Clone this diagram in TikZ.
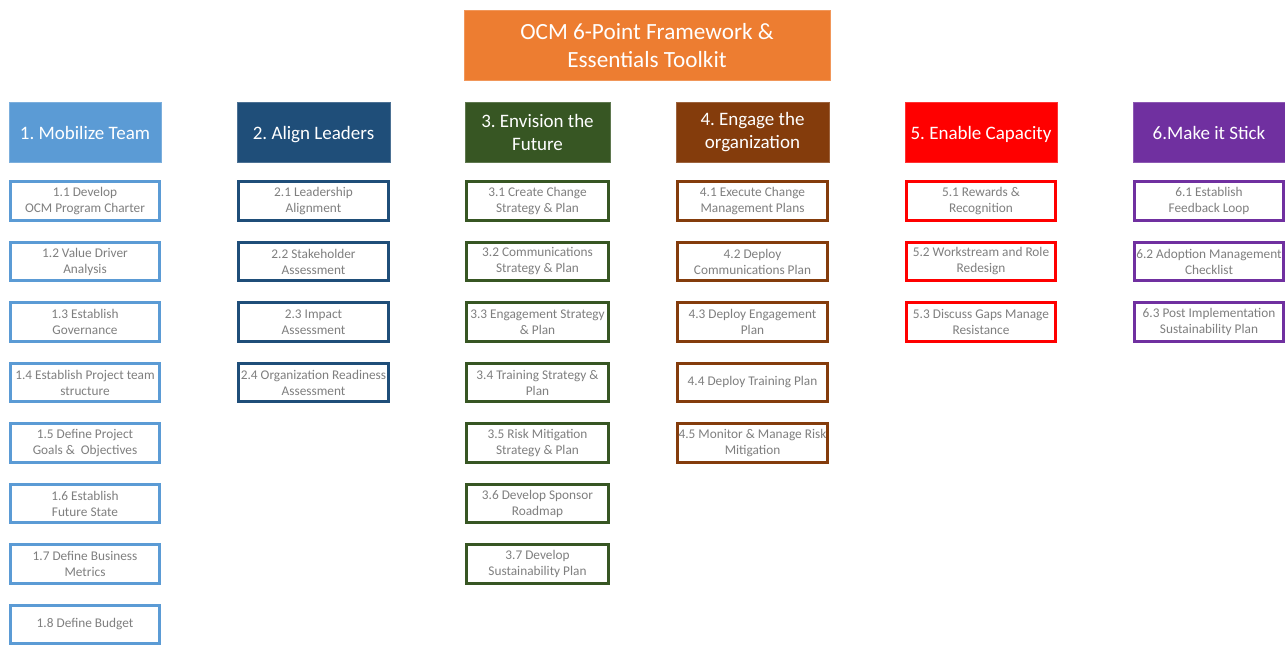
\documentclass[tikz,border=0pt]{standalone}
\usepackage{fontspec}
\setmainfont{Carlito}
\frenchspacing
\definecolor{corange}{HTML}{ED7D31}
\definecolor{cone}{HTML}{5B9BD5}
\definecolor{ctwo}{HTML}{1F4E79}
\definecolor{cthree}{HTML}{375623}
\definecolor{cfour}{HTML}{843C0C}
\definecolor{cfive}{HTML}{FF0000}
\definecolor{csix}{HTML}{7030A0}
\definecolor{subtxt}{HTML}{7F7F7F}
\begin{document}
\begin{tikzpicture}[x=1pt,y=-1pt,
  titlebox/.style={rectangle, fill=corange, draw=corange!80!white, line width=0.8pt, text=white, align=center,
    minimum width=366pt, minimum height=70pt, font=\fontsize{23.2}{28}\selectfont, inner sep=0pt},
  headbox/.style={rectangle, fill=#1, draw=#1!80!white, line width=0.8pt, text=white, align=center,
    minimum height=60pt, font=\fontsize{19}{23}\selectfont, inner sep=0pt},
  subbox/.style={rectangle, draw=#1, line width=2.6pt, fill=white, text=subtxt, align=center,
    minimum height=38.5pt, font=\fontsize{13.3}{16}\selectfont, inner sep=0pt},
  hline/.style={text height=14.4pt, text depth=0pt},
  sline/.style={text height=9.5pt, text depth=3pt},
  wA/.style={minimum width=152pt}, wB/.style={minimum width=153pt}, wC/.style={minimum width=145pt},
  sA/.style={minimum width=149.5pt}, sB/.style={minimum width=150.5pt}, sC/.style={minimum width=142.5pt}
]
\useasboundingbox (0,0) rectangle (1285,648);
\fill[white] (0,0) rectangle (1285,648);

\node[titlebox] (title) at (647,45.5) {OCM 6-Point Framework \&\\Essentials Toolkit};

% headers
\node[headbox=cone, wA, hline] (h1) at (85,132) {1. Mobilize Team};
\node[headbox=ctwo, wB, hline] (h2) at (313.5,132) {2. Align Leaders};
\node[headbox=cthree, wC] (h3) at (537.5,132.5) {3. Envision the\\Future};
\node[headbox=cfour, wB] (h4) at (752.5,132.5) {4. Engage the\\organization};
\node[headbox=cfive, wA, hline] (h5) at (981,132) {5. Enable Capacity};
\node[headbox=csix, wA, hline] (h6) at (1209,132) {6.Make it Stick};

% column 1
\node[subbox=cone, sA] (s11) at (85,201) {1.1 Develop\\OCM Program Charter};
\node[subbox=cone, sA] (s12) at (85,261.5) {1.2 Value Driver\\Analysis};
\node[subbox=cone, sA] (s13) at (85,322) {1.3 Establish\\Governance};
\node[subbox=cone, sA] (s14) at (85,382.5) {1.4 Establish Project team\\structure};
\node[subbox=cone, sA] (s15) at (85,443) {1.5 Define Project\\Goals \&\ \ Objectives};
\node[subbox=cone, sA] (s16) at (85,503.5) {1.6 Establish\\Future State};
\node[subbox=cone, sA] (s17) at (85,564) {1.7 Define Business\\Metrics};
\node[subbox=cone, sA, sline] (s18) at (85,624.5) {1.8 Define Budget};

% column 2
\node[subbox=ctwo, sB] (s21) at (313.5,201) {2.1 Leadership\\Alignment};
\node[subbox=ctwo, sB] (s22) at (313.5,261.5) {2.2 Stakeholder\\Assessment};
\node[subbox=ctwo, sB] (s23) at (313.5,322) {2.3 Impact\\Assessment};
\node[subbox=ctwo, sB] (s24) at (313.5,382.5) {2.4 Organization Readiness\\Assessment};

% column 3
\node[subbox=cthree, sC] (s31) at (537.5,201) {3.1 Create Change\\Strategy \& Plan};
\node[subbox=cthree, sC] (s32) at (537.5,261.5) {3.2 Communications\\Strategy \& Plan};
\node[subbox=cthree, sC] (s33) at (537.5,322) {3.3 Engagement Strategy\\\& Plan};
\node[subbox=cthree, sC] (s34) at (537.5,382.5) {3.4 Training Strategy \&\\Plan};
\node[subbox=cthree, sC] (s35) at (537.5,443) {3.5 Risk Mitigation\\Strategy \& Plan};
\node[subbox=cthree, sC] (s36) at (537.5,503.5) {3.6 Develop Sponsor\\Roadmap};
\node[subbox=cthree, sC] (s37) at (537.5,564) {3.7 Develop\\Sustainability Plan};

% column 4
\node[subbox=cfour, sB] (s41) at (752.5,201) {4.1 Execute Change\\Management Plans};
\node[subbox=cfour, sB] (s42) at (752.5,261.5) {4.2 Deploy\\Communications Plan};
\node[subbox=cfour, sB] (s43) at (752.5,322) {4.3 Deploy Engagement\\Plan};
\node[subbox=cfour, sB, sline] (s44) at (752.5,382.5) {4.4 Deploy Training Plan};
\node[subbox=cfour, sB] (s45) at (752.5,443) {4.5 Monitor \& Manage Risk\\Mitigation};

% column 5
\node[subbox=cfive, sA] (s51) at (981,201) {5.1 Rewards \&\\Recognition};
\node[subbox=cfive, sA] (s52) at (981,261.5) {5.2 Workstream and Role\\Redesign};
\node[subbox=cfive, sA] (s53) at (981,322) {5.3 Discuss Gaps Manage\\Resistance};

% column 6
\node[subbox=csix, sA] (s61) at (1209,201) {6.1 Establish\\Feedback Loop};
\node[subbox=csix, sA] (s62) at (1209,261.5) {6.2 Adoption Management\\Checklist};
\node[subbox=csix, sA] (s63) at (1209,322) {6.3 Post Implementation\\Sustainability Plan};
\end{tikzpicture}
\end{document}
